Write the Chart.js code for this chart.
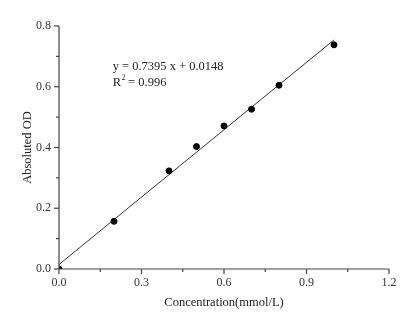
<!DOCTYPE html>
<html><head><meta charset="utf-8">
<script src="https://cdn.jsdelivr.net/npm/chart.js@4"></script>
<style>html,body{margin:0;padding:0;background:#fff}#wrap{width:419px;height:324px;position:relative}</style>
</head><body><div id="wrap"><canvas id="c" width="419" height="324"></canvas></div>
<script>
const concentrations = [0, 0.2, 0.4, 0.5, 0.6, 0.7, 0.8, 1.0];
const odValues = [0, 0.157, 0.323, 0.403, 0.471, 0.526, 0.605, 0.738];
const slope = 0.7395;
const intercept = 0.0148;
const fitRange = [0, 1.0];
const xTicks = [0, 0.3, 0.6, 0.9, 1.2];
const yTicks = [0, 0.2, 0.4, 0.6, 0.8];
const equationText = "y = 0.7395 x + 0.0148";
const r2Text = "0.996";
const xTitle = "Concentration(mmol/L)";
const yTitle = "Absoluted OD";

const FONT = "'Liberation Serif', 'Times New Roman', serif";
const AX = '#444';

const points = concentrations.map((x, i) => ({x, y: odValues[i]}));
const fitLine = fitRange.map(x => ({x, y: slope * x + intercept}));

const ticksPlugin = {
  id: 'ticksPlugin',
  afterDraw(chart) {
    const ctx = chart.ctx, xs = chart.scales.x, ys = chart.scales.y, a = chart.chartArea;
    ctx.save();
    ctx.strokeStyle = AX; ctx.lineWidth = 1.2;
    ctx.beginPath();
    ctx.moveTo(a.left, a.top); ctx.lineTo(a.left, a.bottom); ctx.lineTo(a.right, a.bottom);
    ctx.stroke();
    for (let i = 0; i < xTicks.length; i++) {
      const px = xs.getPixelForValue(xTicks[i]);
      ctx.beginPath(); ctx.moveTo(px, a.bottom); ctx.lineTo(px, a.bottom + 5); ctx.stroke();
      if (i < xTicks.length - 1) {
        const mx = xs.getPixelForValue((xTicks[i] + xTicks[i+1]) / 2);
        ctx.beginPath(); ctx.moveTo(mx, a.bottom); ctx.lineTo(mx, a.bottom + 3); ctx.stroke();
      }
    }
    for (let i = 0; i < yTicks.length; i++) {
      const py = ys.getPixelForValue(yTicks[i]);
      ctx.beginPath(); ctx.moveTo(a.left, py); ctx.lineTo(a.left - 5, py); ctx.stroke();
      if (i < yTicks.length - 1) {
        const my = ys.getPixelForValue((yTicks[i] + yTicks[i+1]) / 2);
        ctx.beginPath(); ctx.moveTo(a.left, my); ctx.lineTo(a.left - 3, my); ctx.stroke();
      }
    }
    ctx.fillStyle = '#222';
    ctx.font = "12.5px " + FONT;
    ctx.textBaseline = 'alphabetic';
    const tx = xs.getPixelForValue(0.195), ty = ys.getPixelForValue(0.655);
    ctx.fillText(equationText, tx, ty);
    const ty2 = ty + 16;
    ctx.fillText("R", tx, ty2);
    const rw = ctx.measureText("R").width;
    ctx.font = "8px " + FONT;
    ctx.fillText("2", tx + rw + 0.5, ty2 - 6);
    ctx.font = "12.5px " + FONT;
    ctx.fillText(" = " + r2Text, tx + rw + 4, ty2);
    ctx.restore();
  }
};

new Chart(document.getElementById('c'), {
  type: 'scatter',
  data: {
    datasets: [
      {data: points, backgroundColor: '#000', borderColor: '#000', pointRadius: 3, pointHoverRadius: 3, showLine: false, order: 1, clip: 0},
      {data: fitLine, borderColor: '#333', borderWidth: 1, pointRadius: 0, showLine: true, fill: false, order: 2}
    ]
  },
  options: {
    responsive: false, animation: false,
    layout: {padding: {top: 26, right: 30, left: 16, bottom: 10}},
    plugins: {legend: {display: false}, tooltip: {enabled: false}},
    scales: {
      x: {
        type: 'linear', min: 0, max: 1.2,
        afterBuildTicks: s => { s.ticks = xTicks.map(v => ({value: v})); },
        afterFit: s => { s.height = 45; },
        grid: {display: false, drawTicks: false},
        border: {display: false},
        ticks: {font: {family: FONT, size: 12}, color: '#333', padding: 7, maxRotation: 0,
          callback: v => v.toFixed(1)},
        title: {display: true, text: xTitle, font: {family: FONT, size: 12.5}, color: '#222', padding: {top: 2}}
      },
      y: {
        type: 'linear', min: 0, max: 0.8,
        afterBuildTicks: s => { s.ticks = yTicks.map(v => ({value: v})); },
        afterFit: s => { s.width = 43; },
        grid: {display: false, drawTicks: false},
        border: {display: false},
        ticks: {font: {family: FONT, size: 12}, color: '#333', padding: 8,
          callback: v => v.toFixed(1)},
        title: {display: true, text: yTitle, font: {family: FONT, size: 12.5}, color: '#222', padding: {bottom: 0}}
      }
    }
  },
  plugins: [ticksPlugin]
});
</script></body></html>
